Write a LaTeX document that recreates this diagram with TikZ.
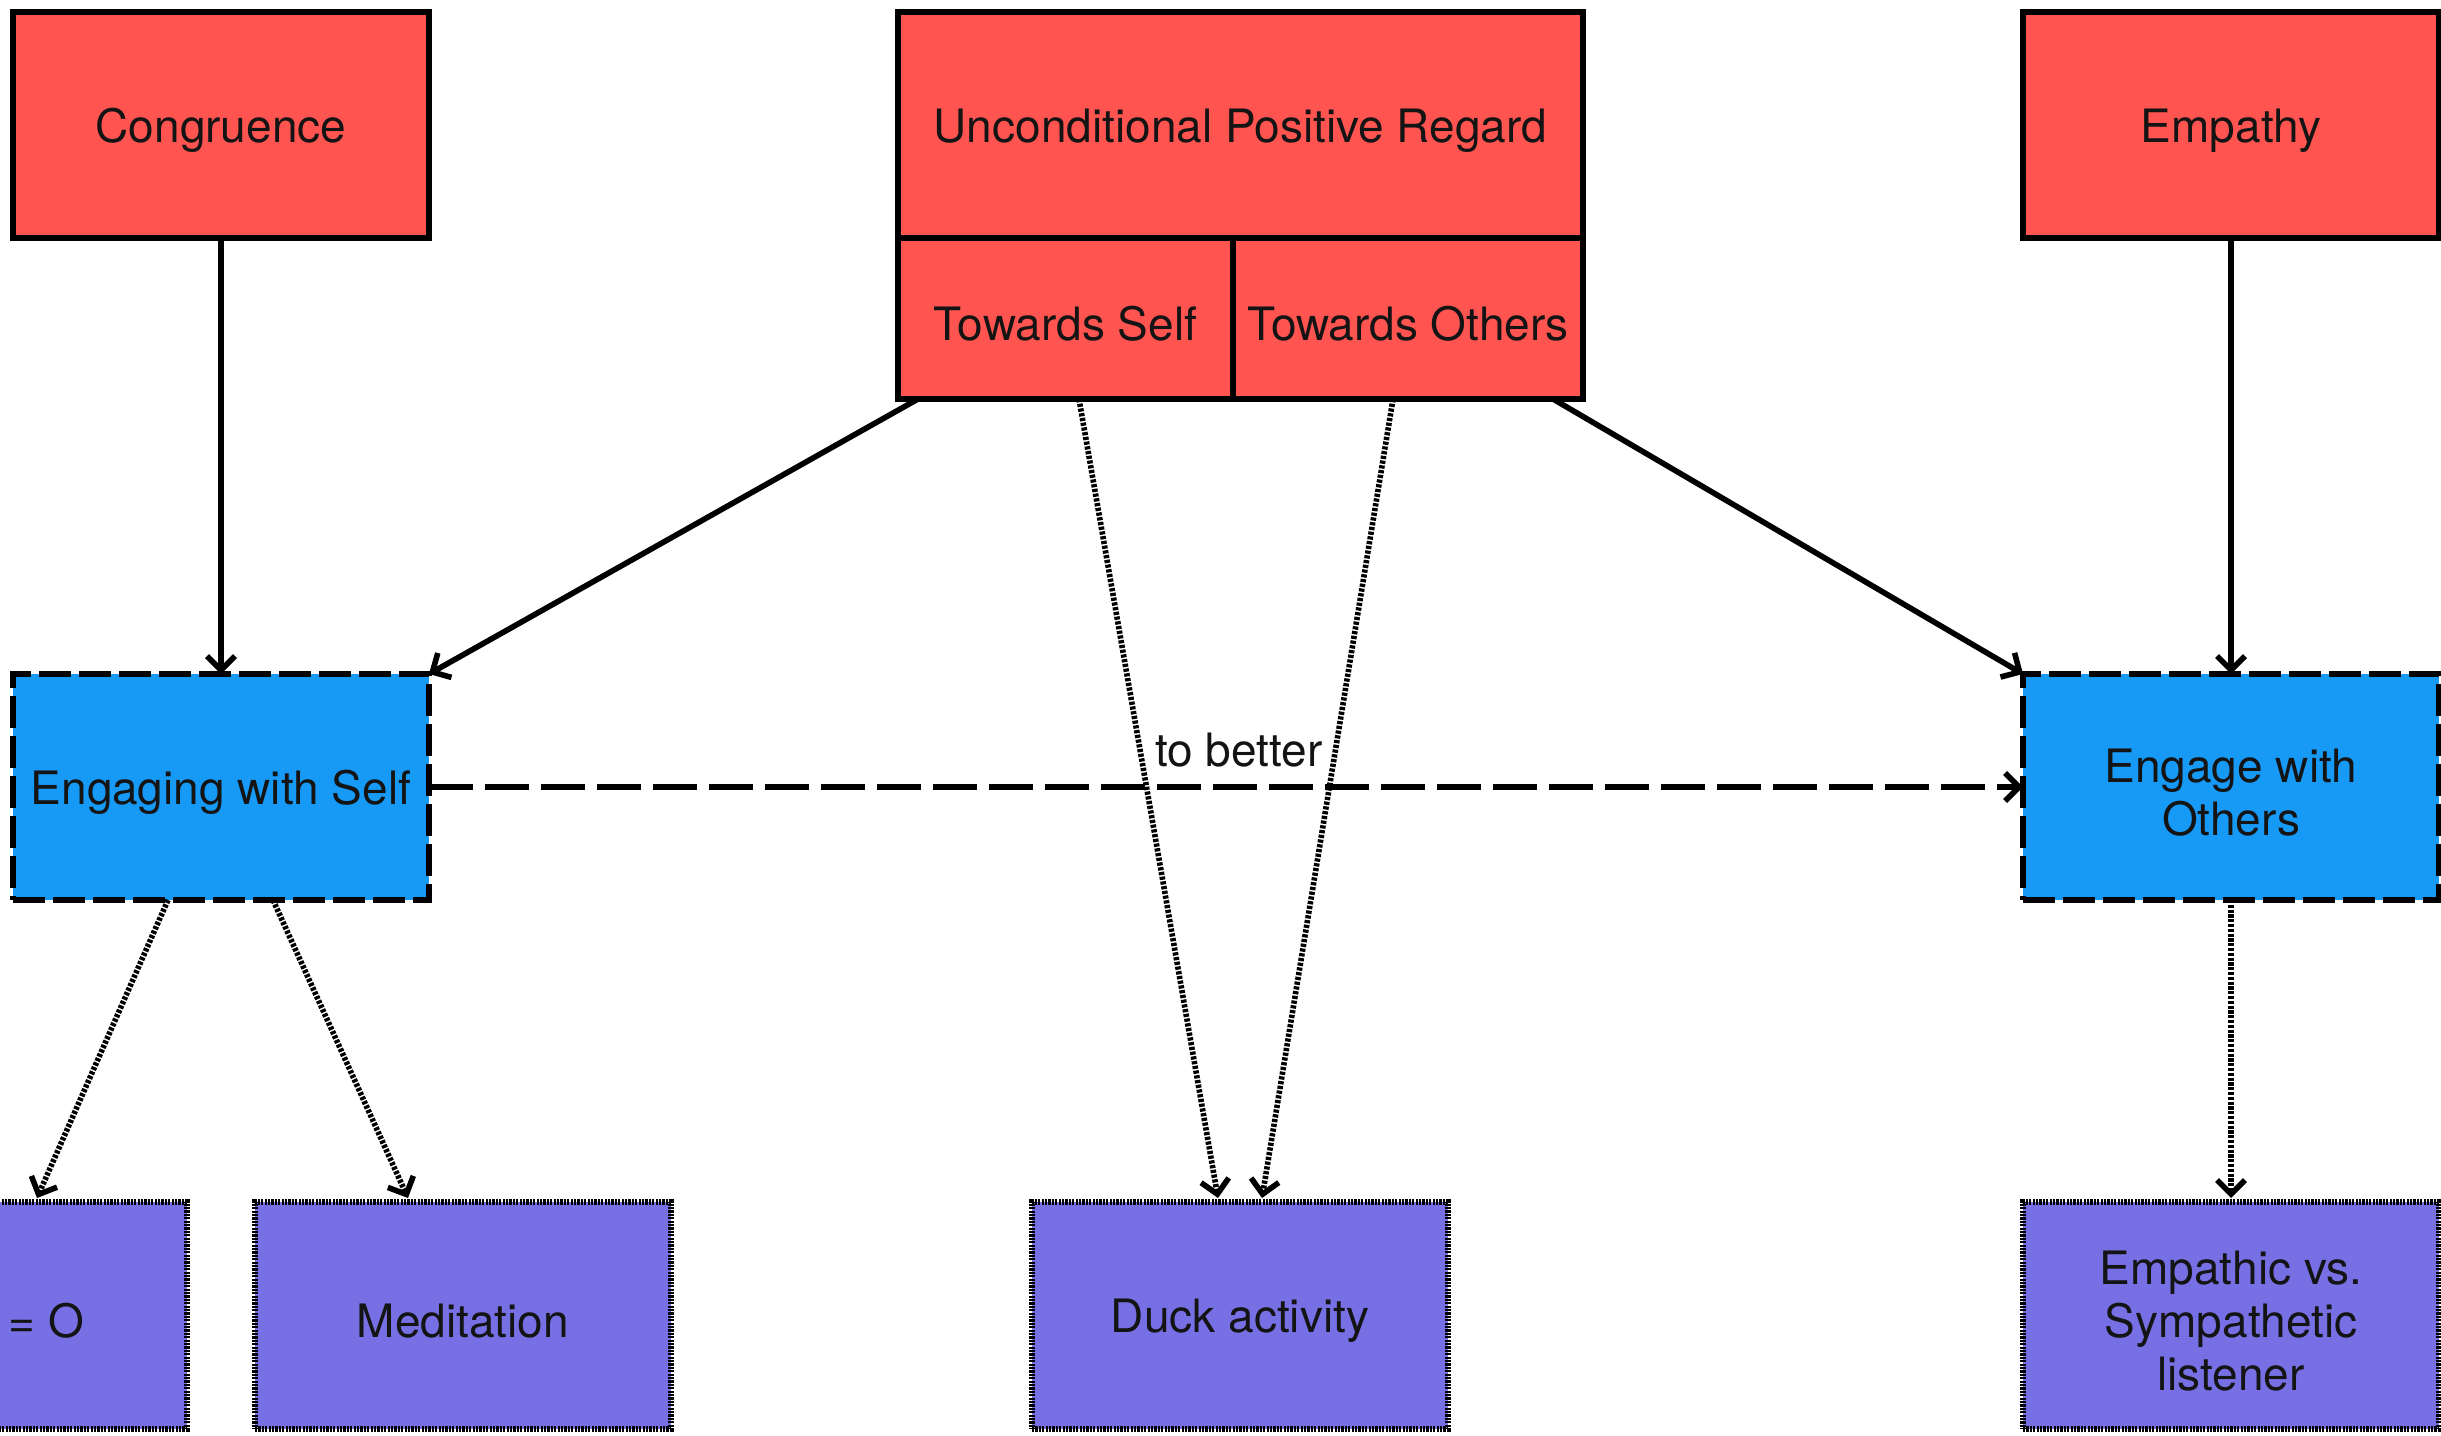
\documentclass[tikz,border=0pt]{standalone}
\usepackage{fontspec}
\setmainfont{TeX Gyre Heros}
\usetikzlibrary{arrows.meta,calc}
\definecolor{boxred}{RGB}{255,84,80}
\definecolor{boxblue}{RGB}{23,153,246}
\definecolor{boxpurple}{RGB}{119,112,229}
\definecolor{txt}{RGB}{20,20,20}
\begin{document}
\begin{tikzpicture}[x=0.5pt,y=-0.5pt,
  base/.style={inner sep=0pt, outer sep=0pt, text=txt, font=\fontsize{23}{26.5}\selectfont, align=center, line width=2.8pt},
  txtlab/.style={label={[base, yshift=-2.7pt]center:#1}},
  redbox/.style={base, draw=black, fill=boxred, minimum width=208pt, minimum height=113pt},
  bluebox/.style={base, draw=black, fill=boxblue, minimum width=208pt, minimum height=113pt, dash pattern=on 16pt off 4pt},
  purplebox/.style={base, draw=black, fill=boxpurple, minimum width=208pt, minimum height=113.5pt, line width=2.6pt, dash pattern=on 1.1pt off 0.6pt},
  conn/.style={line width=2.8pt, -{Straight Barb[length=7pt,width=14pt]}},
  dotconn/.style={conn, dash pattern=on 1.6pt off 0.8pt},
  dashconn/.style={conn, dash pattern=on 22pt off 6pt},
]
\useasboundingbox (0,0) rectangle (2441,1435);
\fill[white] (0,0) rectangle (2441,1435);
\clip (0,0) rectangle (2441,1435);

% top row
\node[redbox, txtlab={Congruence}] (cong) at (221,125) {};
\node[redbox, minimum width=342.5pt, txtlab={Unconditional Positive Regard}] (upr) at (1240.5,125) {};
\node[redbox, minimum width=167.5pt, minimum height=80.5pt, txtlab={Towards Self}] (ts) at (1065.5,318.5) {};
\node[redbox, minimum width=175pt, minimum height=80.5pt, txtlab={Towards Others}] (to) at (1408,318.5) {};
\node[redbox, txtlab={Empathy}] (emp) at (2231,125) {};

% middle row
\node[bluebox, txtlab={Engaging with Self}] (esf) at (221,787) {};
\node[bluebox, txtlab={Engage with\\Others}] (eo) at (2231,787) {};

% bottom row
\node[purplebox] (eqbox) at (-21,1315.5) {};
\node[base, anchor=west, yshift=-2.7pt] (eqtxt) at (9,1315.5) {= O};
\node[purplebox, txtlab={Meditation}] (med) at (463,1315.5) {};
\node[purplebox, txtlab={Duck activity}] (duck) at (1240,1315.5) {};
\node[purplebox, txtlab={Empathic vs.\\Sympathetic\\listener}] (empl) at (2231,1315.5) {};

% connectors
\draw[conn] (cong.south) -- (esf.north);
\draw[conn] (emp.south) -- (eo.north);
\draw[conn] ($(ts.south west)+(20,0)$) -- (esf.north east);
\draw[conn] ($(to.south east)+(-30,0)$) -- (eo.north west);
\draw[dashconn] (esf.east) -- (eo.west)
  node[base, pos=0.508, anchor=base, yshift=10.5pt] (tb) {to better};
\draw[dotconn] ($(ts.south)+(13.5,0)$) -- ($(duck.north)+(-22,-4)$);
\draw[dotconn] ($(to.south)+(-15,0)$) -- ($(duck.north)+(22,-4)$);
\draw[dotconn] ($(esf.south)+(-53,0)$) -- ($(eqbox.north)+(58,-4)$);
\draw[dotconn] ($(esf.south)+(52,0)$) -- ($(med.north)+(-55,-4)$);
\draw[dotconn] (eo.south) -- ($(empl.north)+(0,-4)$);
\end{tikzpicture}
\end{document}
